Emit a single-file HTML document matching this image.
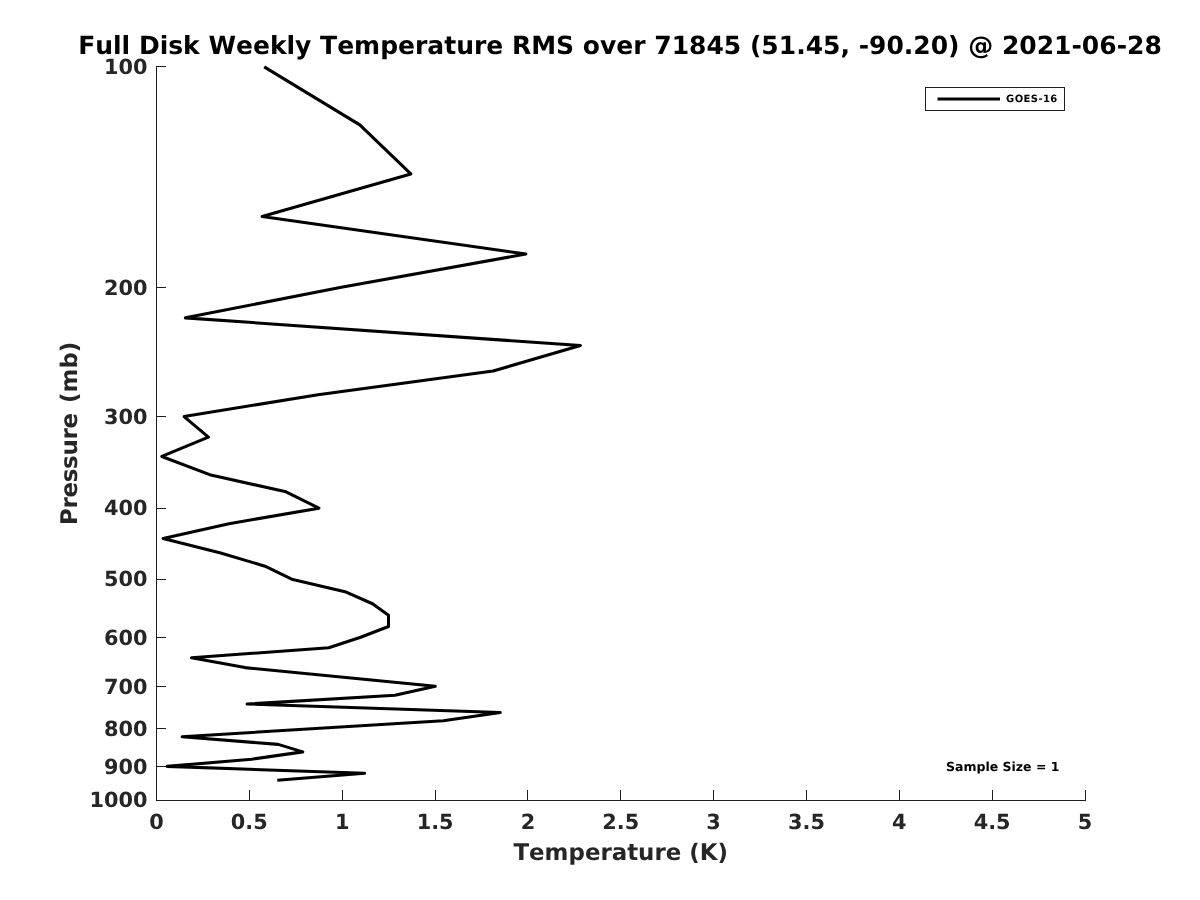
<!DOCTYPE html>
<html lang="en">
<head>
<meta charset="utf-8">
<title>Full Disk Weekly Temperature RMS</title>
<style>
html,body{margin:0;padding:0;background:#fff;}
body{width:1200px;height:900px;overflow:hidden;}
svg{display:block;}
text{font-family:"DejaVu Sans", "Liberation Sans", sans-serif;font-weight:bold;font-kerning:none;font-variant-ligatures:none;text-rendering:geometricPrecision;}
.tick{font-size:20.83px;fill:#262626;}
.lab{font-size:22.92px;fill:#262626;}
.title{font-size:25px;fill:#000;}
.small{font-size:12.5px;fill:#000;}
.leg{font-size:10px;fill:#000;letter-spacing:0.42px;}
</style>
</head>
<body>
<svg width="1200" height="900" viewBox="0 0 1200 900">
<rect x="0" y="0" width="1200" height="900" fill="#ffffff"/>

<g stroke="#1e1e1e" stroke-width="1" fill="none" shape-rendering="crispEdges">
<line x1="156.5" y1="66" x2="156.5" y2="801"/>
<line x1="156" y1="800.5" x2="1086" y2="800.5"/>
<line x1="156.5" y1="801" x2="156.5" y2="790"/>
<line x1="249.5" y1="801" x2="249.5" y2="790"/>
<line x1="342.5" y1="801" x2="342.5" y2="790"/>
<line x1="435.5" y1="801" x2="435.5" y2="790"/>
<line x1="527.5" y1="801" x2="527.5" y2="790"/>
<line x1="620.5" y1="801" x2="620.5" y2="790"/>
<line x1="713.5" y1="801" x2="713.5" y2="790"/>
<line x1="806.5" y1="801" x2="806.5" y2="790"/>
<line x1="899.5" y1="801" x2="899.5" y2="790"/>
<line x1="992.5" y1="801" x2="992.5" y2="790"/>
<line x1="1085.5" y1="801" x2="1085.5" y2="790"/>
<line x1="156" y1="66.5" x2="166" y2="66.5"/>
<line x1="156" y1="287.5" x2="166" y2="287.5"/>
<line x1="156" y1="416.5" x2="166" y2="416.5"/>
<line x1="156" y1="508.5" x2="166" y2="508.5"/>
<line x1="156" y1="579.5" x2="166" y2="579.5"/>
<line x1="156" y1="637.5" x2="166" y2="637.5"/>
<line x1="156" y1="686.5" x2="166" y2="686.5"/>
<line x1="156" y1="728.5" x2="166" y2="728.5"/>
<line x1="156" y1="766.5" x2="166" y2="766.5"/>
<line x1="156" y1="800.5" x2="166" y2="800.5"/>
</g>
<text class="tick" x="156.5" y="828.7" text-anchor="middle">0</text>
<text class="tick" x="249.3" y="828.7" text-anchor="middle">0.5</text>
<text class="tick" x="342.2" y="828.7" text-anchor="middle">1</text>
<text class="tick" x="435.1" y="828.7" text-anchor="middle">1.5</text>
<text class="tick" x="527.9" y="828.7" text-anchor="middle">2</text>
<text class="tick" x="620.8" y="828.7" text-anchor="middle">2.5</text>
<text class="tick" x="713.6" y="828.7" text-anchor="middle">3</text>
<text class="tick" x="806.5" y="828.7" text-anchor="middle">3.5</text>
<text class="tick" x="899.3" y="828.7" text-anchor="middle">4</text>
<text class="tick" x="992.1" y="828.7" text-anchor="middle">4.5</text>
<text class="tick" x="1085.0" y="828.7" text-anchor="middle">5</text>
<text class="tick" x="147.4" y="73.6" text-anchor="end">100</text>
<text class="tick" x="147.4" y="294.6" text-anchor="end">200</text>
<text class="tick" x="147.4" y="423.6" text-anchor="end">300</text>
<text class="tick" x="147.4" y="514.8" text-anchor="end">400</text>
<text class="tick" x="147.4" y="586.2" text-anchor="end">500</text>
<text class="tick" x="147.4" y="644.6" text-anchor="end">600</text>
<text class="tick" x="147.4" y="693.6" text-anchor="end">700</text>
<text class="tick" x="147.4" y="735.6" text-anchor="end">800</text>
<text class="tick" x="147.4" y="773.6" text-anchor="end">900</text>
<text class="tick" x="147.4" y="806.6" text-anchor="end">1000</text>
<text class="lab" x="620.7" y="859.6" text-anchor="middle">Temperature (K)</text>
<text class="lab" transform="translate(76.8,433.4) rotate(-90)" text-anchor="middle"><tspan style="letter-spacing:-0.26px">Pressure</tspan><tspan dx="2.3"> (mb)</tspan></text>
<text class="title" x="620" y="54" text-anchor="middle">Full Disk Weekly Temperature RMS over 71845 (51.45, -90.20) @ 2021-06-28</text>
<polyline points="264.20,66.85 359.80,124.89 410.80,173.97 262.10,216.48 525.90,253.98 340.00,287.52 185.40,317.86 580.40,345.56 493.10,371.05 318.00,394.64 184.10,416.60 208.40,437.15 161.80,456.45 209.70,474.65 286.00,491.86 318.90,508.19 229.00,523.72 163.10,538.53 219.80,552.68 265.00,566.23 291.75,579.23 345.00,591.72 372.50,603.73 388.50,615.31 388.50,626.48 360.60,637.27 328.75,647.71 191.50,657.82 245.00,667.62 435.30,686.35 395.00,695.32 247.10,704.04 500.30,712.53 443.30,720.80 182.10,736.72 278.20,744.39 302.80,751.88 251.70,759.20 167.10,766.36 364.60,773.35 277.30,780.20" fill="none" stroke="#000" stroke-width="3.05" stroke-linejoin="round" stroke-linecap="butt"/>
<rect x="925.5" y="87.5" width="139" height="23" fill="#fff" stroke="#1e1e1e" stroke-width="1" shape-rendering="crispEdges"/>
<line x1="937.5" y1="99" x2="1000" y2="99" stroke="#000" stroke-width="3"/>
<text class="leg" x="1006" y="102">GOES-16</text>
<text class="small" x="946" y="770.7">Sample Size = 1</text>
</svg>
</body>
</html>
